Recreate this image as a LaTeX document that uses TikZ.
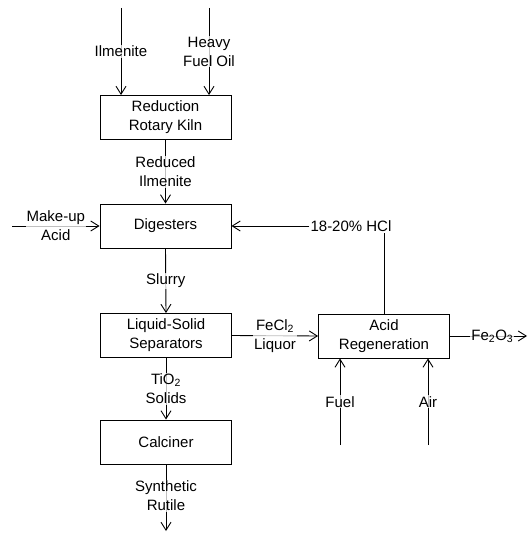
\documentclass[tikz,border=0pt]{standalone}
\usepackage{fontspec}
\setmainfont{Liberation Sans}
\usetikzlibrary{arrows.meta}
\tikzset{
  every picture/.style={x=1pt,y=-1pt},
  proc/.style={draw,line width=0.9pt,minimum width=131pt,minimum height=44pt,align=center,inner sep=0pt,
    font=\fontsize{15}{19}\selectfont},
  lbl/.style={align=center,inner sep=1pt,fill=white,fill opacity=0.75,text opacity=1,
    font=\fontsize{15}{19}\selectfont},
  flow/.style={line width=0.9pt,-{Straight Barb[length=8pt,width=10pt,line width=0.9pt]}},
  plain/.style={line width=0.9pt}
}
\begin{document}
\begin{tikzpicture}
\useasboundingbox (0,0) rectangle (530,534);
% process boxes
\node[proc] (kiln) at (165.5,117.5) {Reduction\\Rotary Kiln};
\node[proc] (dig) at (165.5,226) {Digesters};
\node[proc] (sep) at (166,335.5) {Liquid-Solid\\Separators};
\node[proc] (regen) at (384,336) {Acid\\Regeneration};
\node[proc] (calc) at (166,442) {Calciner};
% free ends
\coordinate (ilmIn) at (121,8);
\coordinate (hfoIn) at (209,8);
\coordinate (acidIn) at (12,226);
\coordinate (fuelIn) at (340,445);
\coordinate (airIn) at (428,445);
\coordinate (feOut) at (527,336);
\coordinate (rutOut) at (166,531);
% inputs to kiln
\draw[flow] (ilmIn) -- node[lbl]{Ilmenite} (ilmIn |- kiln.north);
\draw[flow] (hfoIn) -- node[lbl]{Heavy\\Fuel Oil} (hfoIn |- kiln.north);
% main train
\draw[flow] (kiln.south) -- node[lbl]{Reduced\\Ilmenite} (dig.north);
\draw[flow] (acidIn) -- node[lbl]{Make-up\\Acid} (dig.west);
\draw[flow] (dig.south) -- node[lbl]{Slurry} (sep.north);
\draw[flow] (sep.south) -- node[lbl]{TiO\textsubscript{2}\\Solids} (calc.north);
\draw[flow] (calc.south) -- node[lbl,pos=0.47]{Synthetic\\Rutile} (rutOut);
% acid regeneration loop
\draw[flow] (sep.east) -- node[lbl]{FeCl\textsubscript{2}\\Liquor} (regen.west);
\node[lbl] (hcl) at (351,226) {18-20\% HCl};
\draw[plain] (regen.north) -- (regen.north |- hcl.south);
\draw[flow] (hcl.west) -- (dig.east);
\draw[flow] (regen.east) -- node[lbl,pos=0.55]{Fe\textsubscript{2}O\textsubscript{3}} (feOut);
\draw[flow] (fuelIn) -- node[lbl]{Fuel} (fuelIn |- regen.south);
\draw[flow] (airIn) -- node[lbl]{Air} (airIn |- regen.south);
\end{tikzpicture}
\end{document}
